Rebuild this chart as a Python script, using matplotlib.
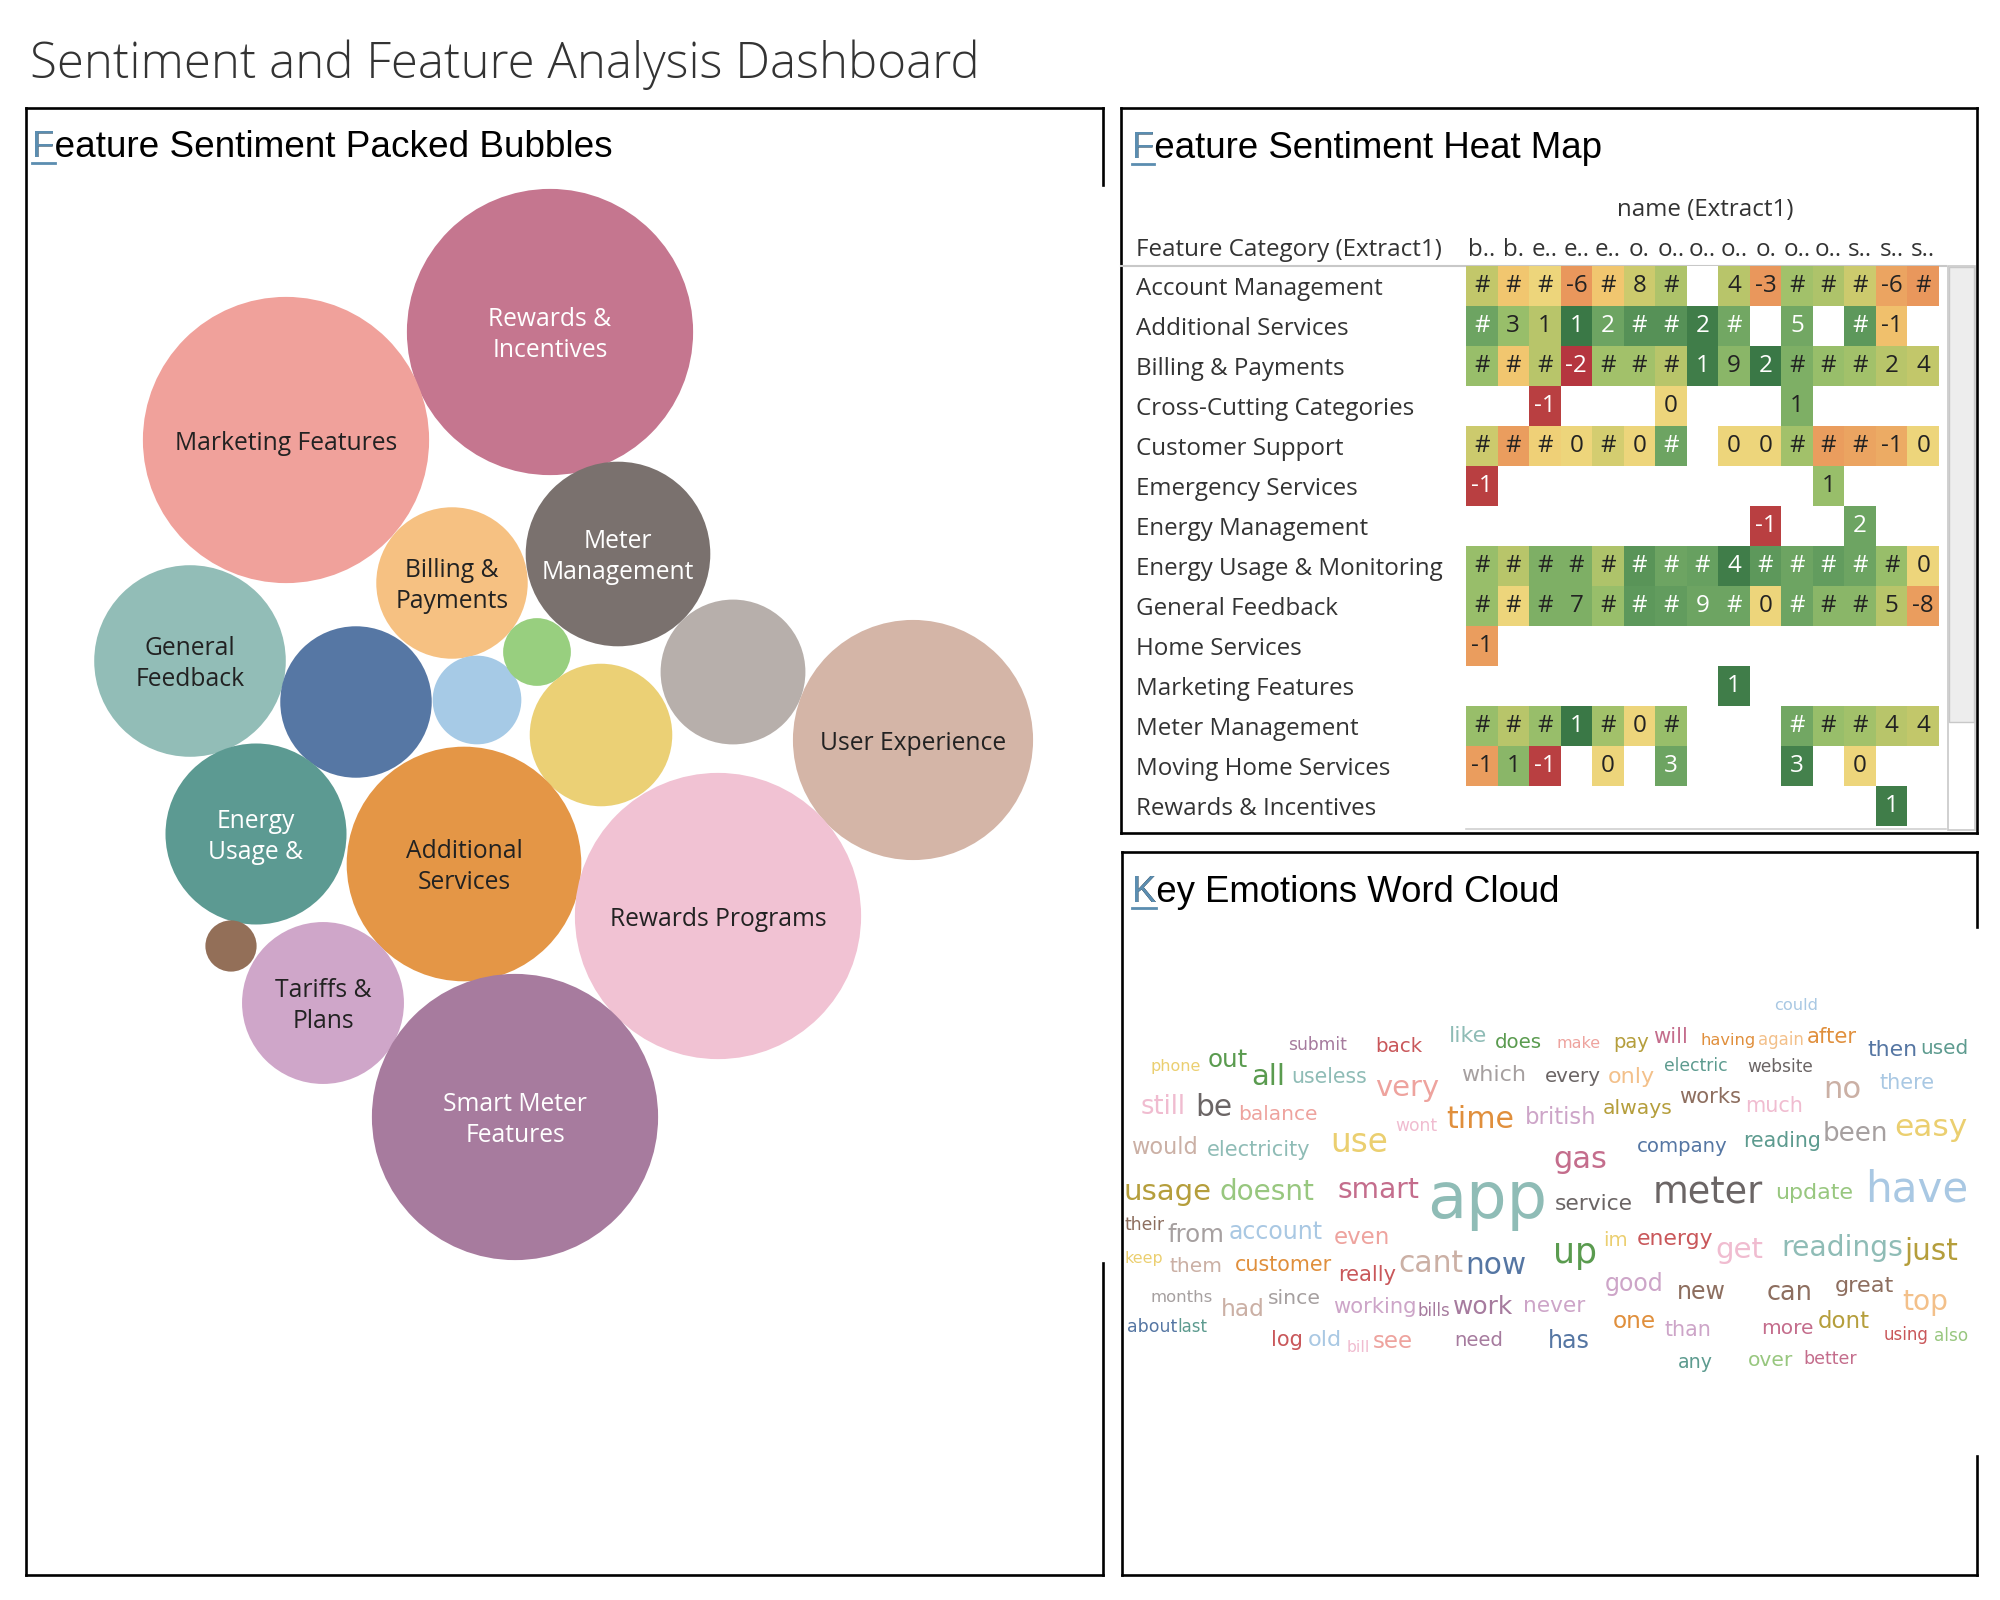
import numpy as np
import matplotlib
matplotlib.use("Agg")
import matplotlib.pyplot as plt
from matplotlib.colors import LinearSegmentedColormap
from matplotlib.patches import Circle, Rectangle
from matplotlib import font_manager

W, H = 2000, 1600

# ---------------- packed bubbles ----------------
bubble_labels = ["Rewards &\nIncentives", "Marketing Features", "Meter\nManagement",
                 "Billing &\nPayments", "General\nFeedback", "", "", "", "", "",
                 "User Experience", "Energy\nUsage &", "Additional\nServices",
                 "Rewards Programs", "", "Tariffs &\nPlans", "Smart Meter\nFeatures"]
bubble_values = [125, 125, 52, 35, 56, 35, 12, 7, 32, 31, 88, 50, 84, 125, 4, 40, 125]
bubble_colors = ["#c5768f", "#f0a19b", "#7a716e", "#f6c182", "#92bdb7", "#5677a4",
                 "#a6cae6", "#98cf7f", "#b7afab", "#ebd075", "#d4b5a7", "#5c9a92",
                 "#e49646", "#f1c2d3", "#936f58", "#cfa6c9", "#a77b9e"]
# packed layout (dashboard pixel frame)
bubble_x = [550, 286, 618, 452, 190, 356, 477, 537, 733, 601, 913, 256, 464, 718, 231, 323, 515]
bubble_y = [332, 440, 554, 583, 661, 702, 700, 652, 672, 735, 740, 834, 864, 916, 946, 1003, 1117]
bubble_scale = 12.8

# ---------------- heat map ----------------
categories = ["Account Management", "Additional Services", "Billing & Payments",
              "Cross-Cutting Categories", "Customer Support", "Emergency Services",
              "Energy Management", "Energy Usage & Monitoring", "General Feedback",
              "Home Services", "Marketing Features", "Meter Management",
              "Moving Home Services", "Rewards & Incentives"]
names = ["b..", "b.", "e..", "e..", "e..", "o.", "o..", "o..", "o..", "o.", "o..", "o..",
         "s..", "s..", "s.."]
n = np.nan
heat_labels = [
    ["#", "#", "#", "-6", "#", "8", "#", "", "4", "-3", "#", "#", "#", "-6", "#"],
    ["#", "3", "1", "1", "2", "#", "#", "2", "#", "", "5", "", "#", "-1", ""],
    ["#", "#", "#", "-2", "#", "#", "#", "1", "9", "2", "#", "#", "#", "2", "4"],
    ["", "", "-1", "", "", "", "0", "", "", "", "1", "", "", "", ""],
    ["#", "#", "#", "0", "#", "0", "#", "", "0", "0", "#", "#", "#", "-1", "0"],
    ["-1", "", "", "", "", "", "", "", "", "", "", "1", "", "", ""],
    ["", "", "", "", "", "", "", "", "", "-1", "", "", "2", "", ""],
    ["#", "#", "#", "#", "#", "#", "#", "#", "4", "#", "#", "#", "#", "#", "0"],
    ["#", "#", "#", "7", "#", "#", "#", "9", "#", "0", "#", "#", "#", "5", "-8"],
    ["-1", "", "", "", "", "", "", "", "", "", "", "", "", "", ""],
    ["", "", "", "", "", "", "", "", "1", "", "", "", "", "", ""],
    ["#", "#", "#", "1", "#", "0", "#", "", "", "", "#", "#", "#", "4", "4"],
    ["-1", "1", "-1", "", "0", "", "3", "", "", "", "3", "", "0", "", ""],
    ["", "", "", "", "", "", "", "", "", "", "", "", "", "1", ""],
]
heat_scores = [
    [0.25, -0.15, 0.0, -0.5, -0.15, 0.2, 0.35, n, 0.3, -0.5, 0.4, 0.35, 0.2, -0.4, -0.5],
    [0.62, 0.45, 0.3, 1.0, 0.62, 0.78, 0.78, 0.95, 0.6, n, 0.6, n, 0.72, -0.2, n],
    [0.45, -0.15, 0.3, -1.0, 0.4, 0.4, 0.3, 0.95, 0.5, 1.0, 0.55, 0.45, 0.4, 0.3, 0.25],
    [n, n, -0.95, n, n, n, 0.0, n, n, n, 0.55, n, n, n, n],
    [0.2, -0.45, -0.05, 0.0, 0.15, 0.0, 0.62, n, 0.0, 0.0, 0.4, -0.45, -0.4, -0.35, 0.0],
    [-0.95, n, n, n, n, n, n, n, n, n, n, 0.45, n, n, n],
    [n, n, n, n, n, n, n, n, n, -0.95, n, n, 0.62, n, n],
    [0.45, 0.3, 0.55, 0.55, 0.35, 0.75, 0.62, 0.65, 0.95, 0.72, 0.62, 0.68, 0.62, 0.45, 0.0],
    [0.45, 0.0, 0.55, 0.55, 0.45, 0.72, 0.68, 0.62, 0.62, 0.0, 0.62, 0.5, 0.5, 0.3, -0.45],
    [-0.45, n, n, n, n, n, n, n, n, n, n, n, n, n, n],
    [n, n, n, n, n, n, n, n, 0.95, n, n, n, n, n, n],
    [0.45, 0.3, 0.45, 1.0, 0.4, 0.0, 0.45, n, n, n, 0.6, 0.45, 0.4, 0.3, 0.25],
    [-0.45, 0.5, -0.95, n, 0.0, n, 0.62, n, n, n, 0.92, n, 0.0, n, n],
    [n, n, n, n, n, n, n, n, n, n, n, n, n, 0.95, n],
]

# ---------------- word cloud ----------------
words = ["could", "submit", "back", "like", "does", "make", "pay", "will", "having", "again",
         "after", "then", "used", "phone", "out", "all", "useless", "very", "which", "every",
         "only", "electric", "website", "no", "there", "still", "be", "balance", "wont", "time",
         "british", "always", "works", "much", "would", "electricity", "use", "company",
         "reading", "been", "easy", "gas", "usage", "doesnt", "smart", "app", "service",
         "meter", "update", "have", "their", "from", "account", "even", "im", "energy", "get",
         "readings", "just", "keep", "them", "customer", "really", "cant", "now", "up", "good",
         "new", "can", "great", "top", "months", "had", "since", "working", "bills", "work",
         "never", "about", "last", "one", "than", "more", "dont", "using", "also", "log", "old",
         "bill", "see", "need", "has", "any", "over", "better"]
word_colors = ["lightblue", "purple", "red", "lightteal", "green", "salmon", "olive", "pink",
               "orange", "lightorange", "orange", "blue", "teal", "gold", "green", "green",
               "lightteal", "salmon", "lightgray", "gray", "lightorange", "teal", "gray", "tan",
               "lightblue", "lightpink", "gray", "salmon", "lightpink", "orange", "lilac", "olive",
               "brown", "lightpink", "tan", "lightteal", "gold", "blue", "teal", "lightgray",
               "gold", "pink", "olive", "lightgreen", "pink", "lightteal", "gray", "gray",
               "lightgreen", "lightblue", "brown", "lightgray", "lightblue", "salmon", "gold",
               "red", "lightpink", "lightteal", "olive", "gold", "tan", "orange", "red", "tan",
               "blue", "green", "lilac", "brown", "brown", "brown", "lightorange", "lightgray",
               "tan", "lightgray", "lilac", "purple", "purple", "lilac", "blue", "teal", "orange",
               "lilac", "pink", "olive", "red", "lightgreen", "red", "lightblue", "lightpink",
               "salmon", "purple", "blue", "teal", "lightgreen", "pink"]
# cloud layout (dashboard pixel frame): left, right, centre y
word_x0 = [1774, 1288, 1375, 1449, 1495, 1557, 1613, 1653, 1701, 1758, 1807, 1867, 1920,
           1151, 1208, 1251, 1291, 1375, 1461, 1545, 1608, 1664, 1747, 1823, 1880, 1141,
           1195, 1238, 1395, 1446, 1525, 1603, 1679, 1745, 1131, 1207, 1330, 1637, 1743,
           1823, 1894, 1553, 1123, 1219, 1337, 1427, 1555, 1653, 1775, 1865, 1125, 1167,
           1229, 1334, 1603, 1637, 1715, 1781, 1905, 1125, 1170, 1235, 1338, 1398, 1465,
           1553, 1605, 1677, 1767, 1835, 1902, 1151, 1221, 1268, 1333, 1417, 1453, 1523,
           1127, 1177, 1613, 1664, 1761, 1818, 1884, 1934, 1271, 1308, 1347, 1373, 1454,
           1548, 1678, 1748, 1804]
word_x1 = [1818, 1347, 1422, 1487, 1542, 1601, 1649, 1688, 1756, 1804, 1857, 1917, 1968,
           1201, 1248, 1285, 1367, 1439, 1526, 1601, 1655, 1727, 1813, 1861, 1935, 1186,
           1232, 1317, 1437, 1514, 1597, 1673, 1741, 1803, 1198, 1310, 1388, 1728, 1821,
           1888, 1967, 1607, 1211, 1314, 1419, 1547, 1633, 1763, 1853, 1968, 1165, 1224,
           1323, 1390, 1628, 1713, 1763, 1903, 1959, 1163, 1223, 1332, 1396, 1463, 1526,
           1597, 1664, 1726, 1813, 1894, 1948, 1213, 1265, 1321, 1417, 1450, 1513, 1585,
           1177, 1207, 1656, 1711, 1813, 1870, 1929, 1968, 1303, 1342, 1370, 1413, 1503,
           1590, 1713, 1793, 1857]
word_y = [1006, 1045, 1046, 1036, 1043, 1044, 1043, 1037, 1040, 1040, 1037, 1050, 1048,
          1066, 1060, 1077, 1077, 1088, 1075, 1077, 1077, 1066, 1067, 1090, 1083, 1107,
          1107, 1114, 1126, 1119, 1117, 1109, 1097, 1106, 1147, 1150, 1142, 1147, 1141,
          1134, 1128, 1160, 1192, 1192, 1190, 1200, 1204, 1193, 1193, 1190, 1225, 1235,
          1232, 1237, 1240, 1239, 1250, 1248, 1251, 1258, 1267, 1265, 1275, 1263, 1266,
          1253, 1284, 1292, 1293, 1286, 1302, 1297, 1310, 1298, 1307, 1311, 1307, 1306,
          1327, 1327, 1322, 1330, 1328, 1322, 1335, 1336, 1340, 1340, 1348, 1342, 1341,
          1341, 1363, 1360, 1359]

# muted tableau-20 shades as they appear in the cloud
tab = {"blue": "#5576a3", "lightblue": "#a9c8e3", "orange": "#e08f3c", "lightorange": "#f3c08a",
       "green": "#5a9b4f", "lightgreen": "#98c77f", "olive": "#b59e3c", "gold": "#ebcf70",
       "teal": "#5d9b8f", "lightteal": "#8fbcb6", "red": "#c9575a", "salmon": "#eea39e",
       "gray": "#6b6565", "lightgray": "#a6a0a0", "pink": "#c46d8c", "lightpink": "#f0bcd0",
       "purple": "#a67b9e", "lilac": "#cda5c8", "brown": "#8d6e5f", "tan": "#cbb0a5"}

fonts = font_manager.fontManager.ttflist
available = {f.name for f in fonts}


def pick(*fams):
    for f in fams:
        if f in available:
            return f
    return "DejaVu Sans"


label_font = pick("Open Sans", "Lato", "Noto Sans")
title_font = pick("Liberation Sans", "Roboto")
# main title: a light (300) face if one exists, else regular
main_font, main_weight = pick("Open Sans", "Lato", "Roboto"), "normal"
for fam in ["Open Sans", "Lato", "Roboto", "Noto Sans"]:
    if any(f.name == fam and f.weight == 300 for f in fonts):
        main_font, main_weight = fam, 300
        break
plt.rcParams["font.family"] = [label_font, "DejaVu Sans"]

fig = plt.figure(figsize=(20, 16), dpi=100)
renderer = fig.canvas.get_renderer()
ax = fig.add_axes([0, 0, 1, 1])
ax.set_xlim(0, W)
ax.set_ylim(H, 0)
ax.axis("off")


def fit(t, width):
    w = t.get_window_extent(renderer).width
    t.set_fontsize(t.get_fontsize() * width / w)
    return t.get_fontsize()


def seg(x0, y0, x1, y1):
    ax.plot([x0, x1], [y0, y1], color="black", lw=1.9, solid_capstyle="projecting")


def panel_title(x, y, s, width):
    t = ax.text(x, y, s, ha="left", va="baseline", family=title_font, color="black", fontsize=20)
    fs = fit(t, width)
    f = ax.text(x, y, s[0], ha="left", va="baseline", family=title_font, color="#5b8db0", fontsize=fs)
    bb = f.get_window_extent(renderer)
    ax.plot([bb.x0, bb.x1], [y + 6, y + 6], color="#5b8db0", lw=2)


# main title
t = ax.text(30, 78, "Sentiment and Feature Analysis Dashboard", ha="left", va="baseline",
            family=main_font, fontweight=main_weight, color="#333333", fontsize=30)
fit(t, 949)

# panel borders (with the gaps Tableau leaves on the right edges)
seg(26, 108, 1103, 108); seg(26, 108, 26, 1575); seg(26, 1575, 1103, 1575)
seg(1103, 108, 1103, 185); seg(1103, 1263, 1103, 1575)
seg(1121, 108, 1977, 108); seg(1121, 108, 1121, 833); seg(1121, 833, 1977, 833); seg(1977, 108, 1977, 833)
seg(1122, 852, 1977, 852); seg(1122, 852, 1122, 1575); seg(1122, 1575, 1977, 1575)
seg(1977, 852, 1977, 927); seg(1977, 1456, 1977, 1575)

panel_title(32, 157, "Feature Sentiment Packed Bubbles", 579)
panel_title(1132, 158, "Feature Sentiment Heat Map", 468)
panel_title(1132, 902, "Key Emotions Word Cloud", 427)

# ---- bubbles ----
tmp = ax.text(0, 0, "Marketing Features", fontsize=20)
fs_b = fit(tmp, 222)
tmp.remove()
white_text = {"Rewards &\nIncentives", "Meter\nManagement", "Energy\nUsage &", "Smart Meter\nFeatures"}
for lab, v, c, x, y in zip(bubble_labels, bubble_values, bubble_colors, bubble_x, bubble_y):
    ax.add_patch(Circle((x, y), bubble_scale * np.sqrt(v), facecolor=c, edgecolor="none"))
    if lab:
        ax.text(x, y + 3, lab, ha="center", va="center", multialignment="center", fontsize=fs_b,
                linespacing=1.3, color="white" if lab in white_text else "#222222")

# ---- heat map ----
tmp = ax.text(0, 0, "Account Management", fontsize=20)
fs_l = fit(tmp, 246)
tmp.remove()

cmap = LinearSegmentedColormap.from_list("rg", [
    (0.0, "#b5363f"), (0.25, "#e9975c"), (0.42, "#f2c66f"), (0.5, "#eed67c"),
    (0.62, "#c6c86a"), (0.72, "#9bc06b"), (0.82, "#69a262"), (1.0, "#3a7846")])

x_left, x_right, y_top, y_bot = 1466, 1939, 266, 826
hax = fig.add_axes([x_left / W, 1 - y_bot / H, (x_right - x_left) / W, (y_bot - y_top) / H])
scores = np.array(heat_scores, dtype=float)
hax.imshow(np.ma.masked_invalid(scores), cmap=cmap, vmin=-1, vmax=1, aspect="auto",
           interpolation="nearest")
for i, row in enumerate(heat_labels):
    for j, lab in enumerate(row):
        if lab:
            s = scores[i, j]
            col = "white" if (s >= 0.58 or s <= -0.8) else "#222222"
            hax.text(j, i, lab, ha="center", va="center", fontsize=fs_l, color=col)
hax.set_yticks(range(len(categories)), categories)
for lbl in hax.get_yticklabels():
    lbl.set_horizontalalignment("left")
hax.tick_params(axis="y", length=0, pad=(x_left - 1136) * 0.72, labelsize=fs_l, labelcolor="#333333")
hax.xaxis.tick_top()
hax.set_xticks(range(len(names)), names)
hax.tick_params(axis="x", length=0, pad=3, labelsize=fs_l, labelcolor="#333333")
for sp in hax.spines.values():
    sp.set_visible(False)

ax.text(1136, 250, "Feature Category (Extract1)", ha="left", va="center", fontsize=fs_l, color="#333333")
ax.text(1705, 210, "name (Extract1)", ha="center", va="center", fontsize=fs_l, color="#333333")
ax.plot([1121, 1946], [266, 266], color="#c8c8c8", lw=1.5)
ax.plot([1466, 1946], [829, 829], color="#d0d0d0", lw=1.2)
ax.add_patch(Rectangle((1948, 266), 27, 564, facecolor="white", edgecolor="#c8c8c8", lw=1.2))
ax.add_patch(Rectangle((1949, 267), 25, 455, facecolor="#ededed", edgecolor="#c8c8c8", lw=1.0))

# ---- word cloud ----
for w, c, x0, x1, y in zip(words, word_colors, word_x0, word_x1, word_y):
    t = ax.text((x0 + x1) / 2, y, w, ha="center", va="center", family="DejaVu Sans",
                fontsize=20, color=tab[c])
    fit(t, x1 - x0)

fig.savefig("out.png", dpi=100)
